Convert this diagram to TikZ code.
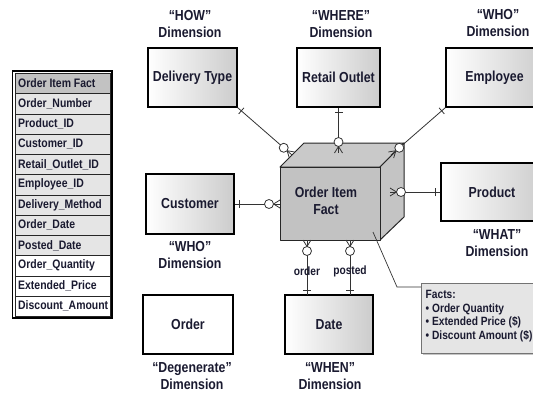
\documentclass[tikz,border=0pt]{standalone}
\usepackage{fontspec}
\setmainfont[FakeStretch=0.85]{Liberation Sans}
\usetikzlibrary{calc,shadows}
\definecolor{txt}{HTML}{1A1A30}
\tikzset{
  lblfont/.style={font=\fontsize{14.5}{17}\selectfont\bfseries, text=txt},
  dimbox/.style={draw=black, line width=1.1pt, left color=white, right color=black!20, lblfont, inner sep=0pt},
  plainbox/.style={draw=black, line width=1.1pt, fill=white, lblfont, inner sep=0pt},
  dimlbl/.style={lblfont, align=center, inner sep=0pt},
  conn/.style={draw=black!80, line width=0.8pt},
  cellbox/.style={draw=black!85, line width=0.8pt, minimum width=94.5pt, minimum height=20.25pt, anchor=north west, inner sep=0pt},
  celltxt/.style={font=\fontsize{12.3}{14}\selectfont\bfseries, text=txt, anchor=west, inner sep=0pt},
  smalllbl/.style={font=\fontsize{12}{13}\selectfont\bfseries, text=txt, inner sep=0.5pt},
}
\newcommand{\crowrel}[2]{%
  \draw[conn] (#1) -- (#2);
  \path ($(#1)!5pt!(#2)$) coordinate (tk) ($(#2)!11pt!(#1)$) coordinate (cc) ($(#2)!6.5pt!(#1)$) coordinate (ap);
  \draw[conn] ($(tk)!4pt!90:(#2)$) -- ($(tk)!4pt!-90:(#2)$);
  \draw[conn] ($(#2)!4pt!90:(#1)$) -- (ap) -- ($(#2)!4pt!-90:(#1)$);
  \draw[conn, fill=white] (cc) circle (4.5pt);
}
\begin{document}
\begin{tikzpicture}[x=1pt, y=-1pt]
\useasboundingbox (0,0) rectangle (533,394);
\clip (0,0) rectangle (533,394);
\fill[white] (0,0) rectangle (533,394);

% ---------- table ----------
\draw[black, line width=1.3pt] (12.5,71) rectangle (112,318);
\node[cellbox, fill=black!24] (r0) at (15,73) {};
\node[celltxt] at ($(r0.west)+(3,0)$) {Order Item Fact};
\foreach \i/\t/\c in {1/Order\_Number/black!10, 2/Product\_ID/black!10, 3/Customer\_ID/black!10,
  4/Retail\_Outlet\_ID/black!10, 5/Employee\_ID/black!10, 6/Delivery\_Method/black!10,
  7/Order\_Date/black!10, 8/Posted\_Date/black!10, 9/Order\_Quantity/white,
  10/Extended\_Price/white, 11/Discount\_Amount/white}{
  \node[cellbox, fill=\c] (r\i) at (15,{73+\i*20.25}) {};
  \node[celltxt] at ($(r\i.west)+(3,0)$) {\t};
}

% ---------- dimension boxes ----------
\node[dimbox, minimum width=89pt, minimum height=59pt] (dt) at (192.5,77.5) {Delivery Type};
\node[dimbox, minimum width=83pt, minimum height=59pt] (ro) at (338.5,77.5) {Retail Outlet};
\node[dimbox, minimum width=99pt, minimum height=59pt, text width=99pt, align=center] (em) at (495.5,77.5) {\hspace*{-2pt}Employee};
\node[dimbox, minimum width=88pt, minimum height=60pt] (cu) at (190,204) {Customer};
\node[dimbox, minimum width=104pt, minimum height=58pt, text width=104pt, align=center] (pr) at (493,192) {\hspace*{-2pt}Product};
\node[plainbox, minimum width=90pt, minimum height=59pt] (od) at (188,324.5) {Order};
\node[dimbox, minimum width=88pt, minimum height=59pt] (dd) at (329,324.5) {Date};

% ---------- dimension labels ----------
\node[dimlbl] (l1) at (190,24) {“HOW”\\Dimension};
\node[dimlbl] (l2) at (341,24) {“WHERE”\\Dimension};
\node[dimlbl] (l3) at (498,23) {“WHO”\\Dimension};
\node[dimlbl] (l4) at (190,255) {“WHO”\\Dimension};
\node[dimlbl] (l5) at (497,243) {“WHAT”\\Dimension};
\node[dimlbl] (l6) at (192,376) {“Degenerate”\\Dimension};
\node[dimlbl] (l7) at (330,376) {“WHEN”\\Dimension};

% ---------- cube ----------
\coordinate (c1) at (280,167);
\coordinate (c2) at (380,167);
\coordinate (c3) at (380,240);
\coordinate (c4) at (280,240);
\coordinate (c5) at (304,143);
\coordinate (c6) at (404,143);
\coordinate (c7) at (404,217);
\draw[black!85, line width=1pt, line join=round, fill=black!21] (c1) -- (c5) -- (c6) -- (c2) -- cycle;
\draw[black!85, line width=1pt, line join=round, fill=black!23] (c2) -- (c6) -- (c7) -- (c3) -- cycle;
\draw[black!85, line width=1pt, line join=round, fill=black!24] (c1) -- (c2) -- (c3) -- (c4) -- cycle;
\node[lblfont, align=center] (fact) at (326,201) {Order Item\\Fact};

% ---------- relationships ----------
\coordinate (f1) at (292,155);
\coordinate (f2) at (338.5,153);
\coordinate (f3) at (391,155);
\coordinate (f4) at (280,204);
\coordinate (f5) at (390,192);
\coordinate (f6) at (307,240);
\coordinate (f7) at (350,240);
\coordinate (d1) at (307,295);
\coordinate (d2) at (350,295);
\crowrel{dt.south east}{f1}
\crowrel{ro.south}{f2}
\crowrel{em.south west}{f3}
\crowrel{cu.east}{f4}
\crowrel{pr.west}{f5}
\crowrel{d1}{f6}
\crowrel{d2}{f7}
\node[smalllbl] (o1) at (307,271) {order};
\node[smalllbl] (o2) at (350,271) {posted};

% ---------- facts callout ----------
\node[draw=black!55, line width=1pt, fill=black!10, minimum width=124pt, minimum height=70pt, anchor=north west,
      drop shadow={shadow xshift=1.5pt, shadow yshift=-1.5pt, fill=black!45}] (facts) at (421,283) {};
\node[anchor=north west, align=left, font=\fontsize{12}{13.7}\selectfont\bfseries, text=txt, inner sep=0pt] (factstxt) at (425.5,290)
  {Facts:\\• Order Quantity\\• Extended Price (\$)\\• Discount Amount (\$)};
\coordinate (callA) at (373,232);
\coordinate (callB) at (397,287);
\coordinate (callC) at ($(facts.north west)+(0,4)$);
\draw[conn, line width=0.7pt] (callA) -- (callB) -- (callC);
\end{tikzpicture}
\end{document}
